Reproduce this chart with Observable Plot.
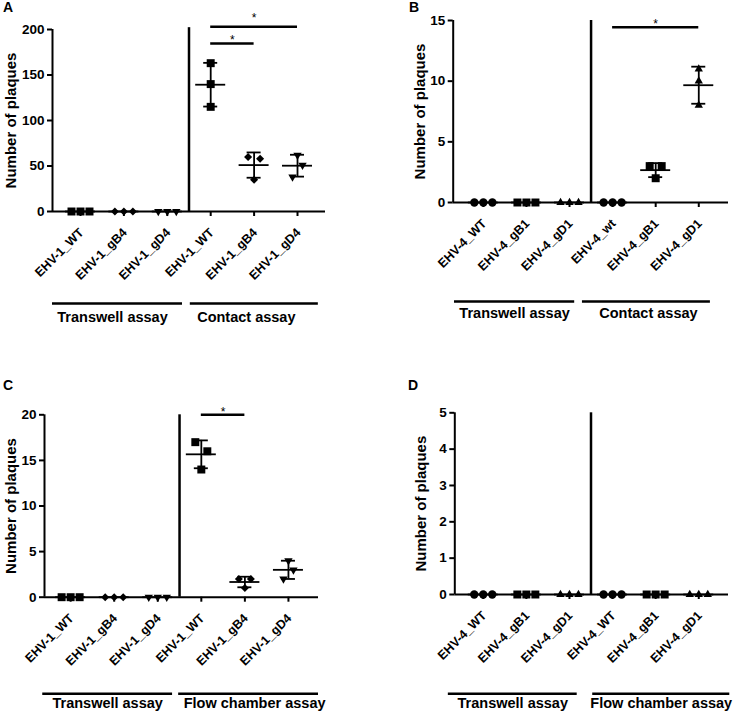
<!DOCTYPE html>
<html><head><meta charset="utf-8">
<script src="https://cdn.jsdelivr.net/npm/d3@7"></script>
<script src="https://cdn.jsdelivr.net/npm/@observablehq/plot@0.6"></script>
<style>
body{margin:0;background:#fff;}
#wrap{position:relative;width:736px;height:714px;overflow:hidden;}
.panel{position:absolute;}
#letters{position:absolute;left:0;top:0;}
</style></head><body><div id="wrap"></div>
<script>
// ---------------- DATA ----------------
const catsA = ["EHV-1_WT", "EHV-1_gB4", "EHV-1_gD4", "EHV-1_WT", "EHV-1_gB4", "EHV-1_gD4"];
const catsB = ["EHV-4_WT", "EHV-4_gB1", "EHV-4_gD1", "EHV-4_wt", "EHV-4_gB1", "EHV-4_gD1"];
const catsC = ["EHV-1_WT", "EHV-1_gB4", "EHV-1_gD4", "EHV-1_WT", "EHV-1_gB4", "EHV-1_gD4"];
const catsD = ["EHV-4_WT", "EHV-4_gB1", "EHV-4_gD1", "EHV-4_WT", "EHV-4_gB1", "EHV-4_gD1"];

const groupsA = ["Transwell assay", "Contact assay"];
const groupsB = ["Transwell assay", "Contact assay"];
const groupsC = ["Transwell assay", "Flow chamber assay"];
const groupsD = ["Transwell assay", "Flow chamber assay"];

// plaque counts, three replicates per category
const valuesA = [[0, 0, 0], [0, 0, 0], [0, 0, 0], [163, 140, 115], [60, 58, 35], [62, 51, 38]];
const valuesB = [[0, 0, 0], [0, 0, 0], [0, 0, 0], [0, 0, 0], [3, 3, 2], [11, 10, 8]];
const valuesC = [[0, 0, 0], [0, 0, 0], [0, 0, 0], [17, 16, 14], [2, 2, 1], [4, 3, 2]];
const valuesD = [[0, 0, 0], [0, 0, 0], [0, 0, 0], [0, 0, 0], [0, 0, 0], [0, 0, 0]];

const yTicksA = [0, 50, 100, 150, 200];
const yTicksB = [0, 5, 10, 15];
const yTicksC = [0, 5, 10, 15, 20];
const yTicksD = [0, 1, 2, 3, 4, 5];

// significance comparisons (category index pairs)
const sigA = [[3, 4], [3, 5]];
const sigB = [[3, 5]];
const sigC = [[3, 4]];
const sigD = [];

const shapesEHV1 = ["square", "diamond", "triangleDown"];
const shapesEHV4 = ["circle", "square", "triangle"];

// ---------------- LAYOUT / STYLE ----------------
const W = 368, H = 357;
const FONT = '"Liberation Sans", Arial, Helvetica, sans-serif';
const layouts = {
  A: {left: 0, top: 0, ml: 52, mr: 43, mt: 29, mb: 146, xDomain: [-0.645, 5.645], yMax: 200, labelDx: -41,
      gLineDy: 92, gTextDy: 106, gExt: [[-0.645, 2.35], [2.53, 5.48]], gTextShift: [-5, -8],
      sepTop: 202, sigLevels: [184.6, 203], starDy: [-3, -9]},
  B: {left: 368, top: 0, ml: 84.7, mr: 8, mt: 20, mb: 155, xDomain: [-0.7, 5.69], yMax: 15, labelDx: -32.7,
      gLineDy: 99, gTextDy: 111, gExt: [[-0.67, 2.12], [2.3, 5.27]], gTextShift: [0, 2],
      sepTop: 15, sigLevels: [14.45], starDy: [-3]},
  C: {left: 0, top: 357, ml: 44, mr: 50, mt: 57.3, mb: 117.3, xDomain: [-0.6, 5.69], yMax: 20, labelDx: -33,
      gLineDy: 96.6, gTextDy: 106.6, gExt: [[-0.64, 2.34], [2.48, 5.69]], gTextShift: [0, 6],
      sepTop: 20, sigLevels: [20], starDy: [-3]},
  D: {left: 368, top: 357, ml: 86.3, mr: 8, mt: 55.3, mb: 120, xDomain: [-0.66, 5.69], yMax: 5, labelDx: -34,
      gLineDy: 99.3, gTextDy: 109.3, gExt: [[-0.81, 2.18], [2.54, 5.72]], gTextShift: [0, 0],
      sepTop: 5, sigLevels: [], starDy: []}
};

const sqrt3 = Math.sqrt(3);
const triangleDown = {draw(ctx, size) {
  const y = -Math.sqrt(size / (sqrt3 * 3));
  ctx.moveTo(0, -y * 2); ctx.lineTo(-sqrt3 * y, y); ctx.lineTo(sqrt3 * y, y); ctx.closePath();
}};
const diamondSq = {draw(ctx, size) {
  const r = Math.sqrt(size / 2);
  ctx.moveTo(0, -r); ctx.lineTo(r, 0); ctx.lineTo(0, r); ctx.lineTo(-r, 0); ctx.closePath();
}};
const symbolStyle = {
  square: {symbol: "square", r: 4.5},
  circle: {symbol: "circle", r: 4.2},
  triangle: {symbol: "triangle", r: 3.1},
  triangleDown: {symbol: triangleDown, r: 3.1},
  diamond: {symbol: diamondSq, r: 3.2}
};

function jitter(vals, pxY) {
  const order = d3.range(vals.length).sort((a, b) => vals[b] - vals[a]);
  const offs = new Array(vals.length).fill(0);
  const clusters = []; let cur = [order[0]];
  for (let k = 1; k < order.length; k++) {
    const a = order[k - 1], b = order[k];
    if ((vals[a] - vals[b]) * pxY < 12) cur.push(b); else { clusters.push(cur); cur = [b]; }
  }
  clusters.push(cur);
  for (const c of clusters) {
    if (c.length === 2) { offs[c[0]] = -6; offs[c[1]] = 6; }
    else if (c.length === 3) {
      const r = (vals[c[0]] - vals[c[2]]) * pxY, t2 = (vals[c[0]] - vals[c[1]]) * pxY;
      if (r < 3) { offs[c[0]] = -9; offs[c[1]] = 0; offs[c[2]] = 9; }
      else if (t2 < 3) { offs[c[0]] = -6; offs[c[1]] = 6; offs[c[2]] = 0; }
      else { offs[c[0]] = 0; offs[c[1]] = 5; offs[c[2]] = -5; }
    }
  }
  return offs;
}

function panel(cats, groups, values, shapes, sig, yTicks, L) {
  const pxX = (W - L.ml - L.mr) / (L.xDomain[1] - L.xDomain[0]);
  const pxY = (H - L.mt - L.mb) / L.yMax;
  const pts = [], stats = [];
  values.forEach((vals, i) => {
    const offs = jitter(vals, pxY);
    vals.forEach((v, j) => pts.push({i, v, x: i + offs[j] / pxX, shape: shapes[i % 3]}));
    stats.push({i, mean: d3.mean(vals), sd: d3.deviation(vals) || 0});
  });
  const mw = 15 / pxX, cw = 7 / pxX;
  const caps = stats.filter(d => d.sd > 0).flatMap(d => [{i: d.i, y: d.mean - d.sd}, {i: d.i, y: d.mean + d.sd}]);
  const gData = groups.map((g, k) => ({label: g, x1: L.gExt[k][0], x2: L.gExt[k][1], tx: (L.gExt[k][0] + L.gExt[k][1]) / 2 + L.gTextShift[k] / pxX}));
  const sData = sig.map((s, k) => ({a: s[0], b: s[1], level: L.sigLevels[k], sdy: L.starDy[k]}));
  const dotMarks = Object.keys(symbolStyle).map(s =>
    Plot.dot(pts.filter(p => p.shape === s), {x: "x", y: "v", symbol: symbolStyle[s].symbol, r: symbolStyle[s].r, fill: "#000", stroke: "none"}));
  const starMarks = sData.map(d =>
    Plot.text([d], {x: e => (e.a + e.b) / 2, y: "level", dy: d.sdy, text: () => "*", fontSize: 12, fontWeight: "normal"}));
  const plot = Plot.plot({
    width: W, height: H,
    marginLeft: L.ml, marginRight: L.mr, marginTop: L.mt, marginBottom: L.mb,
    style: `font-family:${FONT};font-weight:bold;color:#000;background:transparent;overflow:visible;`,
    x: {domain: L.xDomain, axis: null},
    y: {domain: [0, L.yMax], axis: null},
    marks: [
      Plot.axisY({ticks: yTicks, tickFormat: () => "", tickSize: 5, strokeWidth: 2, label: null}),
      Plot.axisX({ticks: d3.range(cats.length), tickFormat: () => "", tickSize: 5, strokeWidth: 2, label: null}),
      Plot.text(yTicks, {x: () => L.xDomain[0], y: d => d, text: d => String(d), textAnchor: "end", dx: -8,
        fontSize: 13.5, fontWeight: "bold", fill: "#000"}),
      Plot.text(d3.range(cats.length), {x: i => i, y: () => 0, text: i => cats[i], rotate: -45, textAnchor: "end",
        lineAnchor: "middle", dx: 1, dy: 19, fontSize: 12.5, fontWeight: "bold", fill: "#000"}),
      Plot.ruleY([0], {strokeWidth: 2}),
      Plot.ruleX([L.xDomain[0]], {y1: 0, y2: L.yMax, strokeWidth: 2}),
      Plot.ruleX([2.5], {y1: 0, y2: L.sepTop, strokeWidth: 2.5}),
      Plot.text(["Number of plaques"], {frameAnchor: "left", textAnchor: "middle", lineAnchor: "middle", rotate: -90,
        dx: L.labelDx, text: d => d, fontSize: 15, fontWeight: "bold"}),
      ...dotMarks,
      Plot.ruleY(stats, {x1: d => d.i - mw, x2: d => d.i + mw, y: "mean", strokeWidth: 1.8}),
      Plot.ruleX(stats.filter(d => d.sd > 0), {x: "i", y1: d => d.mean - d.sd, y2: d => d.mean + d.sd, strokeWidth: 1.8}),
      Plot.ruleY(caps, {x1: d => d.i - cw, x2: d => d.i + cw, y: "y", strokeWidth: 1.8}),
      Plot.ruleY(gData, {x1: "x1", x2: "x2", y: () => 0, dy: L.gLineDy, strokeWidth: 2.5}),
      Plot.text(gData, {x: "tx", y: () => 0, dy: L.gTextDy, text: "label", fontSize: 14.5, fontWeight: "bold"}),
      Plot.ruleY(sData, {x1: "a", x2: "b", y: "level", strokeWidth: 2.5}),
      ...starMarks
    ]
  });
  plot.classList.add("panel");
  plot.style.left = L.left + "px";
  plot.style.top = L.top + "px";
  plot.style.position = "absolute";
  return plot;
}

const wrap = document.getElementById("wrap");
wrap.appendChild(panel(catsA, groupsA, valuesA, shapesEHV1, sigA, yTicksA, layouts.A));
wrap.appendChild(panel(catsB, groupsB, valuesB, shapesEHV4, sigB, yTicksB, layouts.B));
wrap.appendChild(panel(catsC, groupsC, valuesC, shapesEHV1, sigC, yTicksC, layouts.C));
wrap.appendChild(panel(catsD, groupsD, valuesD, shapesEHV4, sigD, yTicksD, layouts.D));

// panel letters
const ns = "http://www.w3.org/2000/svg";
const svg = document.createElementNS(ns, "svg");
svg.setAttribute("id", "letters"); svg.setAttribute("width", 736); svg.setAttribute("height", 714);
svg.style.position = "absolute";
[["A", 3, 12], ["B", 409, 12], ["C", 3, 390], ["D", 408, 390]].forEach(([t, x, y]) => {
  const e = document.createElementNS(ns, "text");
  e.setAttribute("x", x); e.setAttribute("y", y);
  e.setAttribute("font-family", "Liberation Sans, Arial, sans-serif");
  e.setAttribute("font-weight", "bold"); e.setAttribute("font-size", 14);
  e.textContent = t; svg.appendChild(e);
});
wrap.appendChild(svg);
</script>
</body></html>
